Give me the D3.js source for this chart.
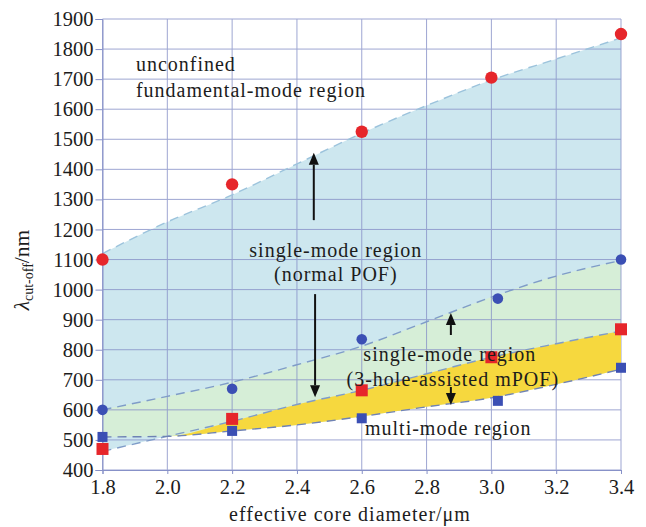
<!DOCTYPE html>
<html>
<head>
<meta charset="utf-8">
<script src="https://cdn.jsdelivr.net/npm/d3@7"></script>
<style>
  body { margin: 0; background: #fff; }
  svg { display: block; }
</style>
</head>
<body>
<svg id="chart" width="646" height="527"></svg>
<script>
// Measured cut-off wavelengths (nm) against effective core diameter (µm)
const diameters      = [1.8, 2.2, 2.6, 3.0, 3.4];
const diametersHole  = [1.8, 2.2, 2.6, 3.02, 3.4];
const normalUpper    = [1100, 1350, 1525, 1705, 1850];  // red circles
const holeUpper      = [600, 670, 835, 970, 1100];      // blue circles
const normalLower    = [470, 570, 665, 775, 868];       // red squares
const holeLower      = [510, 530, 572, 630, 740];       // blue squares

// Fitted region boundaries sampled on the grid
const fitX           = [1.8, 2.0, 2.2, 2.4, 2.6, 2.8, 3.0, 3.2, 3.4];
const fitNormalUpper = [1120, 1225, 1315, 1418, 1520, 1612, 1697, 1767, 1837];
const fitHoleUpper   = [600, 645, 692, 750, 812, 893, 975, 1045, 1097];
const fitNormalLower = [462, 512, 562, 618, 665, 720, 775, 820, 862];
const fitHoleLower   = [510, 512, 530, 550, 578, 610, 640, 685, 735];

const xTicks = [1.8, 2.0, 2.2, 2.4, 2.6, 2.8, 3.0, 3.2, 3.4];
const yTicks = d3.range(400, 1901, 100);

const FONT = "'Liberation Serif', 'DejaVu Serif', 'Times New Roman', serif";

const svg = d3.select("#chart");
const x = d3.scaleLinear().domain([1.8, 3.4]).range([102.5, 621]);
const y = d3.scaleLinear().domain([400, 1900]).range([470, 19]);

const gridColor = "#8791c8";

const pts = arr => fitX.map((v, i) => ({ x: v, y: arr[i] }));
const line = d3.line().x(d => x(d.x)).y(d => y(d.y)).curve(d3.curveMonotoneX);
const band = (top, bottom) => fitX.map((v, i) => ({ x: v, t: top[i], b: bottom[i] }));
const area = d3.area().x(d => x(d.x)).y0(d => y(d.b)).y1(d => y(d.t)).curve(d3.curveMonotoneX);

// Regions
svg.append("path").attr("d", area(band(fitNormalUpper, fitNormalLower)))
  .attr("fill", "#cde7ef");
svg.append("path").attr("d", area(band(fitHoleUpper, fitHoleLower)))
  .attr("fill", "#d6eed7");

// Grid
const grid = svg.append("g").attr("stroke", gridColor).attr("stroke-width", 1).attr("opacity", 0.8);
grid.selectAll(".gx").data(xTicks).join("line")
  .attr("x1", d => x(d)).attr("x2", d => x(d)).attr("y1", y(1900)).attr("y2", y(400));
grid.selectAll(".gy").data(yTicks).join("line")
  .attr("y1", d => y(d)).attr("y2", d => y(d)).attr("x1", x(1.8)).attr("x2", x(3.4));

// Yellow band where the mPOF window lies above the higher-mode cut-off
svg.append("path")
  .attr("d", area(band(fitNormalLower.map((v, i) => Math.max(v, fitHoleLower[i])), fitHoleLower)))
  .attr("fill", "#f6d83e");

// Dashed fit curves
[[fitNormalUpper, "#9cc3dc"], [fitHoleUpper, "#7f9cc8"], [fitNormalLower, "#7f9cc8"], [fitHoleLower, "#6f82b4"]]
  .forEach(([arr, c]) => {
    svg.append("path").attr("d", line(pts(arr)))
      .attr("fill", "none").attr("stroke", c).attr("stroke-width", 1.4)
      .attr("stroke-dasharray", "9,6");
  });

// Axes
const yAxis = svg.append("g").attr("transform", `translate(${x(1.8)},0)`)
  .call(d3.axisLeft(y).tickValues(yTicks).tickSize(7).tickPadding(2).tickFormat(d3.format("d")));
const xAxis = svg.append("g").attr("transform", `translate(0,${y(400)})`)
  .call(d3.axisBottom(x).tickValues(xTicks).tickSize(4).tickPadding(5).tickFormat(d3.format(".1f")));
[yAxis, xAxis].forEach(a => {
  a.attr("font-family", FONT).attr("font-size", 20.5);
  a.select(".domain").attr("stroke", gridColor);
  a.selectAll(".tick line").attr("stroke", gridColor);
  a.selectAll(".tick text").attr("fill", "#1c1c1c");
});

// Markers
svg.selectAll(".rc").data(diameters).join("circle")
  .attr("cx", d => x(d)).attr("cy", (d, i) => y(normalUpper[i])).attr("r", 6.2).attr("fill", "#e6262b");
svg.selectAll(".bc").data(diametersHole).join("circle")
  .attr("cx", d => x(d)).attr("cy", (d, i) => y(holeUpper[i])).attr("r", 5.3).attr("fill", "#3b4fb4");
svg.selectAll(".rs").data(diameters).join("rect")
  .attr("x", d => x(d) - 6).attr("y", (d, i) => y(normalLower[i]) - 6)
  .attr("width", 12).attr("height", 12).attr("fill", "#e6262b");
svg.selectAll(".bs").data(diametersHole).join("rect")
  .attr("x", d => x(d) - 5).attr("y", (d, i) => y(holeLower[i]) - 5)
  .attr("width", 10).attr("height", 10).attr("fill", "#3b4fb4");

// Arrows (from tail to tip)
const arrows = [
  { x: 2.452, from: 1231, to: 1455 },
  { x: 2.456, from: 985, to: 642 },
  { x: 2.875, from: 849, to: 922 },
  { x: 2.875, from: 676, to: 616 }
];
arrows.forEach(a => {
  const x0 = x(a.x), y0 = y(a.from), y1 = y(a.to);
  const dir = Math.sign(y1 - y0), head = 12, hw = 5;
  svg.append("line").attr("x1", x0).attr("x2", x0).attr("y1", y0).attr("y2", y1 - dir * head)
    .attr("stroke", "#111").attr("stroke-width", 2);
  svg.append("path")
    .attr("d", `M${x0},${y1}L${x0 - hw},${y1 - dir * head}L${x0 + hw},${y1 - dir * head}Z`)
    .attr("fill", "#111");
});

// Region labels
const labels = [
  { t: "unconfined", x: 1.903, y: 1727, a: "start" },
  { t: "fundamental-mode region", x: 1.903, y: 1641, a: "start" },
  { t: "single-mode region", x: 2.52, y: 1110, a: "middle" },
  { t: "(normal POF)", x: 2.52, y: 1027, a: "middle" },
  { t: "single-mode region", x: 2.605, y: 763, a: "start" },
  { t: "(3-hole-assisted mPOF)", x: 2.553, y: 680, a: "start" },
  { t: "multi-mode region", x: 2.61, y: 516, a: "start" }
];
svg.selectAll(".lbl").data(labels).join("text")
  .attr("x", d => x(d.x)).attr("y", d => y(d.y)).attr("text-anchor", d => d.a)
  .attr("font-family", FONT).attr("font-size", 20).attr("letter-spacing", 1)
  .attr("fill", "#1c1c1c").text(d => d.t);

// Axis titles
svg.append("text").attr("x", 350).attr("y", 521).attr("text-anchor", "middle")
  .attr("font-family", FONT).attr("font-size", 20).attr("letter-spacing", 1).attr("fill", "#1c1c1c")
  .text("effective core diameter/μm");

const yt = svg.append("text").attr("transform", "translate(29,270) rotate(-90)")
  .attr("text-anchor", "middle").attr("font-family", FONT).attr("font-size", 21.5).attr("fill", "#1c1c1c");
yt.append("tspan").attr("font-style", "italic").text("λ");
yt.append("tspan").attr("font-size", 14).attr("dy", 4).text("cut-off");
yt.append("tspan").attr("dy", -4).text("/nm");
</script>
</body>
</html>
